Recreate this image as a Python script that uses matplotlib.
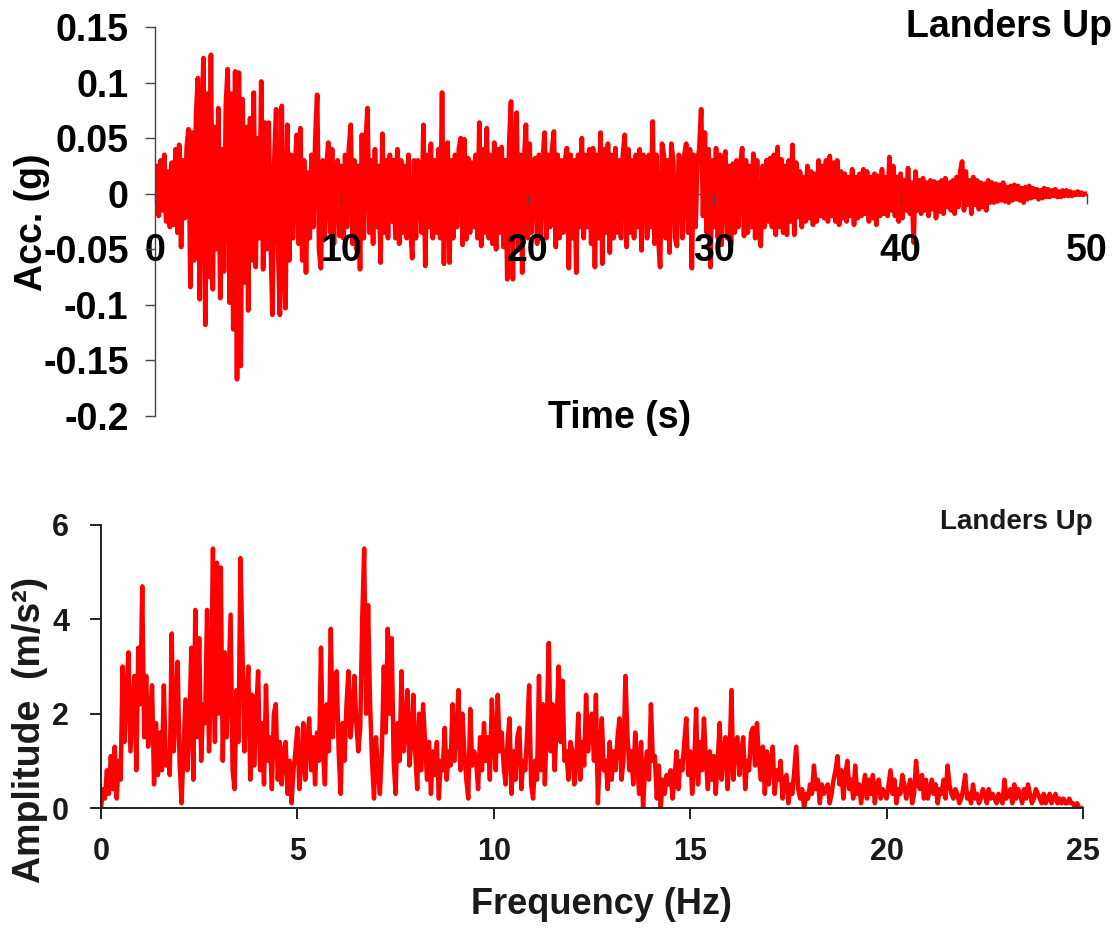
import numpy as np
import matplotlib
matplotlib.use("Agg")
import matplotlib.pyplot as plt

plt.rcParams['font.family'] = ['Liberation Sans', 'DejaVu Sans']
plt.rcParams['font.weight'] = 'bold'

# acceleration time history, milli-g, one value every 0.1 s
acc_mg = [
    0, 25, -20, 30, -15, 35, -25, 20, -30, 28,
    -28, 40, -35, 44, -48, 30, -22, 42, 58, -84,
    55, -60, 70, 104, -95, 60, 122, -118, 90, -75,
    125, -86, 60, -50, 77, -94, 40, -70, 80, 112,
    -98, 90, -122, 110, -167, 109, -155, 85, -80, 60,
    -105, 68, -60, 91, -66, 50, -40, 101, -68, 64,
    -50, 64, -40, -109, 30, 76, -45, -109, 79, -60,
    -103, 62, -60, 35, -40, 20, 53, -45, 59, -60,
    30, -71, 19, -40, 35, -30, 50, 89, -50, -67,
    30, -40, 25, 46, -35, 40, -45, 20, 30, -38,
    25, -40, 35, -30, 40, 62, -45, 30, -50, 25,
    -68, 53, -40, 45, 77, -35, 30, -45, 40, -30,
    25, -62, 54, -35, 30, -40, 35, -25, 30, -40,
    40, -45, 30, -35, 25, -40, 35, -30, -58, 30,
    -40, 30, 25, -35, 62, -65, 35, -30, 45, -40,
    30, -35, 40, -40, 91, -63, 35, 46, -62, 30,
    -40, 35, -30, 40, 50, -46, 49, -41, 32, -35,
    28, -30, 35, -40, 64, -47, 40, -35, 59, -40,
    35, -45, 46, -50, 40, -35, 42, -48, 30, -77,
    45, 83, -77, 40, 73, -50, 35, -71, 30, 62,
    -40, 45, -35, 30, 32, -45, 35, -40, 30, 55,
    -40, 35, -30, 40, 56, -48, 35, -40, 30, -35,
    30, 41, -67, 35, -40, 30, -71, 35, -30, 50,
    -40, 35, -30, 40, -45, 41, -66, 35, -40, 55,
    -63, 40, -35, 45, -53, 35, -40, 41, -35, 30,
    -40, 35, 53, -48, 40, -35, 30, -40, 35, -30,
    40, -51, 35, 32, -40, 35, -30, 65, -45, 35,
    -40, -66, 45, 35, -40, 30, -53, 45, 30, -40,
    -47, 35, 30, -40, 35, 45, -35, 40, -67, 35,
    -30, 30, 40, 76, -20, 55, -35, 40, -66, 30,
    -30, 41, -40, 35, -46, 30, 38, -40, 25, -46,
    27, -35, 30, -30, 25, 41, -38, 30, -35, 25,
    -30, 36, -40, 30, -35, -47, 25, -30, 30, -25,
    32, -30, 35, -37, 42, -30, 31, -35, 25, -37,
    30, -25, 44, -37, 28, -21, 20, -30, 15, -25,
    25, -22, 20, -28, 18, -25, 30, -20, 25, -22,
    30, -25, 34, -20, 28, -25, 30, -28, 20, -22,
    18, -25, 15, -20, 22, -28, 15, -22, 18, -20,
    22, -18, 20, -25, 15, -22, 18, -28, 16, -20,
    22, -18, 15, -20, 33, -15, 25, -20, 15, -25,
    18, -22, 12, -15, 23, -18, 10, -44, 20, -15,
    12, -18, 14, -15, 10, -20, 12, -14, 11, -22,
    10, -16, 12, -18, 14, -12, 10, -15, 12, -18,
    15, -12, 20, 29, -15, 20, -10, 12, -18, 15,
    -10, 12, -14, 10, -12, 9, -15, 12, -8, 10,
    -8, 9, -7, 8, -6, 10, -7, 6, -8, 7,
    -6, 8, -5, 7, -6, 5, -8, 6, -5, 7,
    -4, 5, -3, 4, -5, 3, -4, 5, -3, 4,
    -3, 3, -2, 4, -3, 2, -3, 3, -2, 3,
    -2, 2, -2, 1, -1, 2, -1, 1, -1, 0,
    0,
]
dt = 0.1

# Fourier amplitude, tenths of m/s^2, one value every 0.05 Hz
amp_tenths = [
    0, 4, 2, 8, 3, 11, 4, 13, 2, 10, 6, 30, 14, 25, 33, 12, 20, 28, 8, 34,
    22, 47, 15, 28, 13, 20, 26, 5, 18, 7, 16, 8, 26, 9, 12, 7, 37, 12, 20, 31,
    10, 1, 12, 23, 8, 18, 34, 6, 42, 15, 36, 10, 22, 18, 42, 12, 25, 55, 14, 52,
    20, 51, 10, 33, 15, 28, 41, 8, 4, 25, 14, 53, 34, 12, 22, 30, 6, 24, 9, 20,
    29, 8, 18, 5, 26, 10, 15, 4, 20, 22, 6, 14, 5, 12, 14, 3, 10, 1, 8, 12,
    17, 4, 10, 18, 6, 14, 19, 8, 15, 5, 16, 10, 34, 12, 5, 22, 12, 38, 15, 28,
    29, 12, 3, 18, 10, 22, 29, 15, 20, 28, 18, 12, 17, 40, 55, 20, 43, 22, 10, 2,
    15, 8, 3, 12, 30, 16, 38, 20, 36, 10, 3, 18, 10, 29, 12, 16, 25, 9, 14, 24,
    12, 4, 20, 8, 22, 14, 6, 14, 3, 12, 7, 14, 2, 10, 8, 17, 6, 12, 9, 22,
    10, 16, 25, 8, 20, 12, 6, 2, 21, 9, 12, 10, 4, 15, 8, 18, 10, 15, 6, 23,
    14, 8, 24, 12, 16, 9, 5, 14, 19, 3, 12, 6, 15, 17, 4, 10, 8, 16, 26, 5,
    2, 10, 6, 28, 8, 22, 5, 18, 35, 12, 22, 8, 18, 30, 14, 27, 10, 12, 6, 14,
    12, 5, 10, 20, 6, 14, 9, 24, 12, 18, 20, 10, 24, 1, 12, 19, 8, 10, 4, 14,
    6, 12, 8, 15, 19, 6, 10, 28, 16, 8, 12, 5, 16, 10, 3, 14, 0, 8, 12, 6,
    22, 10, 11, 2, 9, 0, 6, 3, 7, 5, 8, 2, 6, 12, 4, 10, 8, 14, 19, 7,
    12, 3, 9, 21, 5, 14, 8, 19, 10, 4, 12, 6, 11, 3, 10, 18, 6, 12, 15, 4,
    10, 25, 6, 14, 15, 7, 12, 15, 4, 10, 8, 16, 17, 9, 18, 10, 6, 13, 3, 12,
    5, 10, 13, 3, 8, 6, 10, 2, 6, 7, 1, 5, 3, 8, 13, 4, 2, 4, 0, 3,
    2, 5, 3, 9, 4, 6, 1, 5, 3, 4, 5, 1, 3, 6, 8, 11, 5, 8, 2, 7,
    10, 4, 6, 2, 9, 3, 5, 1, 4, 7, 2, 6, 3, 7, 1, 5, 6, 2, 4, 3,
    2, 5, 8, 3, 6, 1, 4, 3, 7, 5, 2, 4, 6, 1, 3, 10, 5, 4, 7, 2,
    6, 2, 4, 6, 3, 5, 1, 4, 3, 6, 2, 9, 5, 3, 2, 4, 3, 1, 2, 4,
    7, 2, 3, 1, 5, 2, 3, 1, 2, 4, 3, 1, 4, 2, 3, 2, 1, 3, 2, 1,
    6, 2, 3, 4, 1, 5, 2, 4, 3, 1, 4, 2, 5, 3, 1, 2, 4, 3, 2, 1,
    3, 1, 2, 3, 1, 2, 3, 1, 2, 1, 2, 1, 1, 2, 1, 1, 0, 1, 0, 0,
    0,
]
df = 0.05

acc_ticks = [-0.2, -0.15, -0.1, -0.05, 0, 0.05, 0.1, 0.15]
acc_tick_labels = ['-0.2', '-0.15', '-0.1', '-0.05', '0', '0.05', '0.1', '0.15']
time_ticks = [0, 10, 20, 30, 40, 50]
amp_ticks = [0, 2, 4, 6]
freq_ticks = [0, 5, 10, 15, 20, 25]

W, H = 1120, 931


def px(x, y):
    """Pixel position (from top-left) to figure fraction."""
    return x / W, 1 - y / H


acc = np.array(acc_mg) / 1000.0
time = np.arange(len(acc)) * dt
amp = np.array(amp_tenths) / 10.0
freq = np.arange(len(amp)) * df

fig = plt.figure(figsize=(W / 100, H / 100), dpi=100)

# --- acceleration time history
ax1 = fig.add_axes([155 / W, 1 - 416 / H, (1087 - 155) / W, (416 - 27) / H])
ax1.plot(time, acc, color='#ff0000', lw=3.4, zorder=2)
ax1.set_axisbelow(False)  # tick labels sit on top of the trace, as in the original
ax1.set_xlim(0, 50)
ax1.set_ylim(-0.2, 0.15)
ax1.spines['top'].set_visible(False)
ax1.spines['right'].set_visible(False)
ax1.spines['bottom'].set_position(('data', 0))
ax1.spines['bottom'].set_zorder(1)  # zero line stays hidden under the trace
for s in ('left', 'bottom'):
    ax1.spines[s].set_color('#444444')
    ax1.spines[s].set_linewidth(1.0)
ax1.set_yticks(acc_ticks)
ax1.set_yticklabels(acc_tick_labels)
ax1.set_xticks(time_ticks)
ax1.tick_params(axis='y', direction='out', length=7, width=1, color='#444444',
                pad=12, labelsize=27)
ax1.tick_params(axis='x', direction='out', length=7, width=1, color='#444444',
                pad=21, labelsize=27)

fig.text(*px(620, 418), 'Time (s)', ha='center', va='center', fontsize=27, fontweight='bold')
fig.text(*px(32, 222), 'Acc. (g)', ha='center', va='center', rotation=90,
         fontsize=27, fontweight='bold')
fig.text(*px(1112, 27), 'Landers Up', ha='right', va='center', fontsize=27, fontweight='bold')

# --- Fourier amplitude spectrum
ax2 = fig.add_axes([101 / W, 1 - 808 / H, (1083 - 101) / W, (808 - 525) / H])
ax2.plot(freq, amp, color='#ff0000', lw=3.2)
ax2.set_xlim(0, 25)
ax2.set_ylim(0, 6)
ax2.spines['top'].set_visible(False)
ax2.spines['right'].set_visible(False)
for s in ('left', 'bottom'):
    ax2.spines[s].set_color('#222222')
    ax2.spines[s].set_linewidth(1.4)
ax2.set_xticks(freq_ticks)
ax2.set_yticks(amp_ticks)
ax2.tick_params(axis='both', direction='out', length=8, width=1.4, color='#222222',
                labelsize=22, labelcolor='#1a1a1a')
ax2.tick_params(axis='y', pad=15)
ax2.tick_params(axis='x', pad=13)

fig.text(*px(601, 905), 'Frequency (Hz)', ha='center', va='center', fontsize=26,
         fontweight='bold', color='#1a1a1a')
fig.text(*px(30, 730), 'Amplitude  (m/s²)', ha='center', va='center', rotation=90,
         fontsize=27, fontweight='bold', color='#1a1a1a')
fig.text(*px(1093, 522), 'Landers Up', ha='right', va='center', fontsize=20,
         fontweight='bold', color='#1a1a1a')

fig.savefig('out.png', dpi=100)
